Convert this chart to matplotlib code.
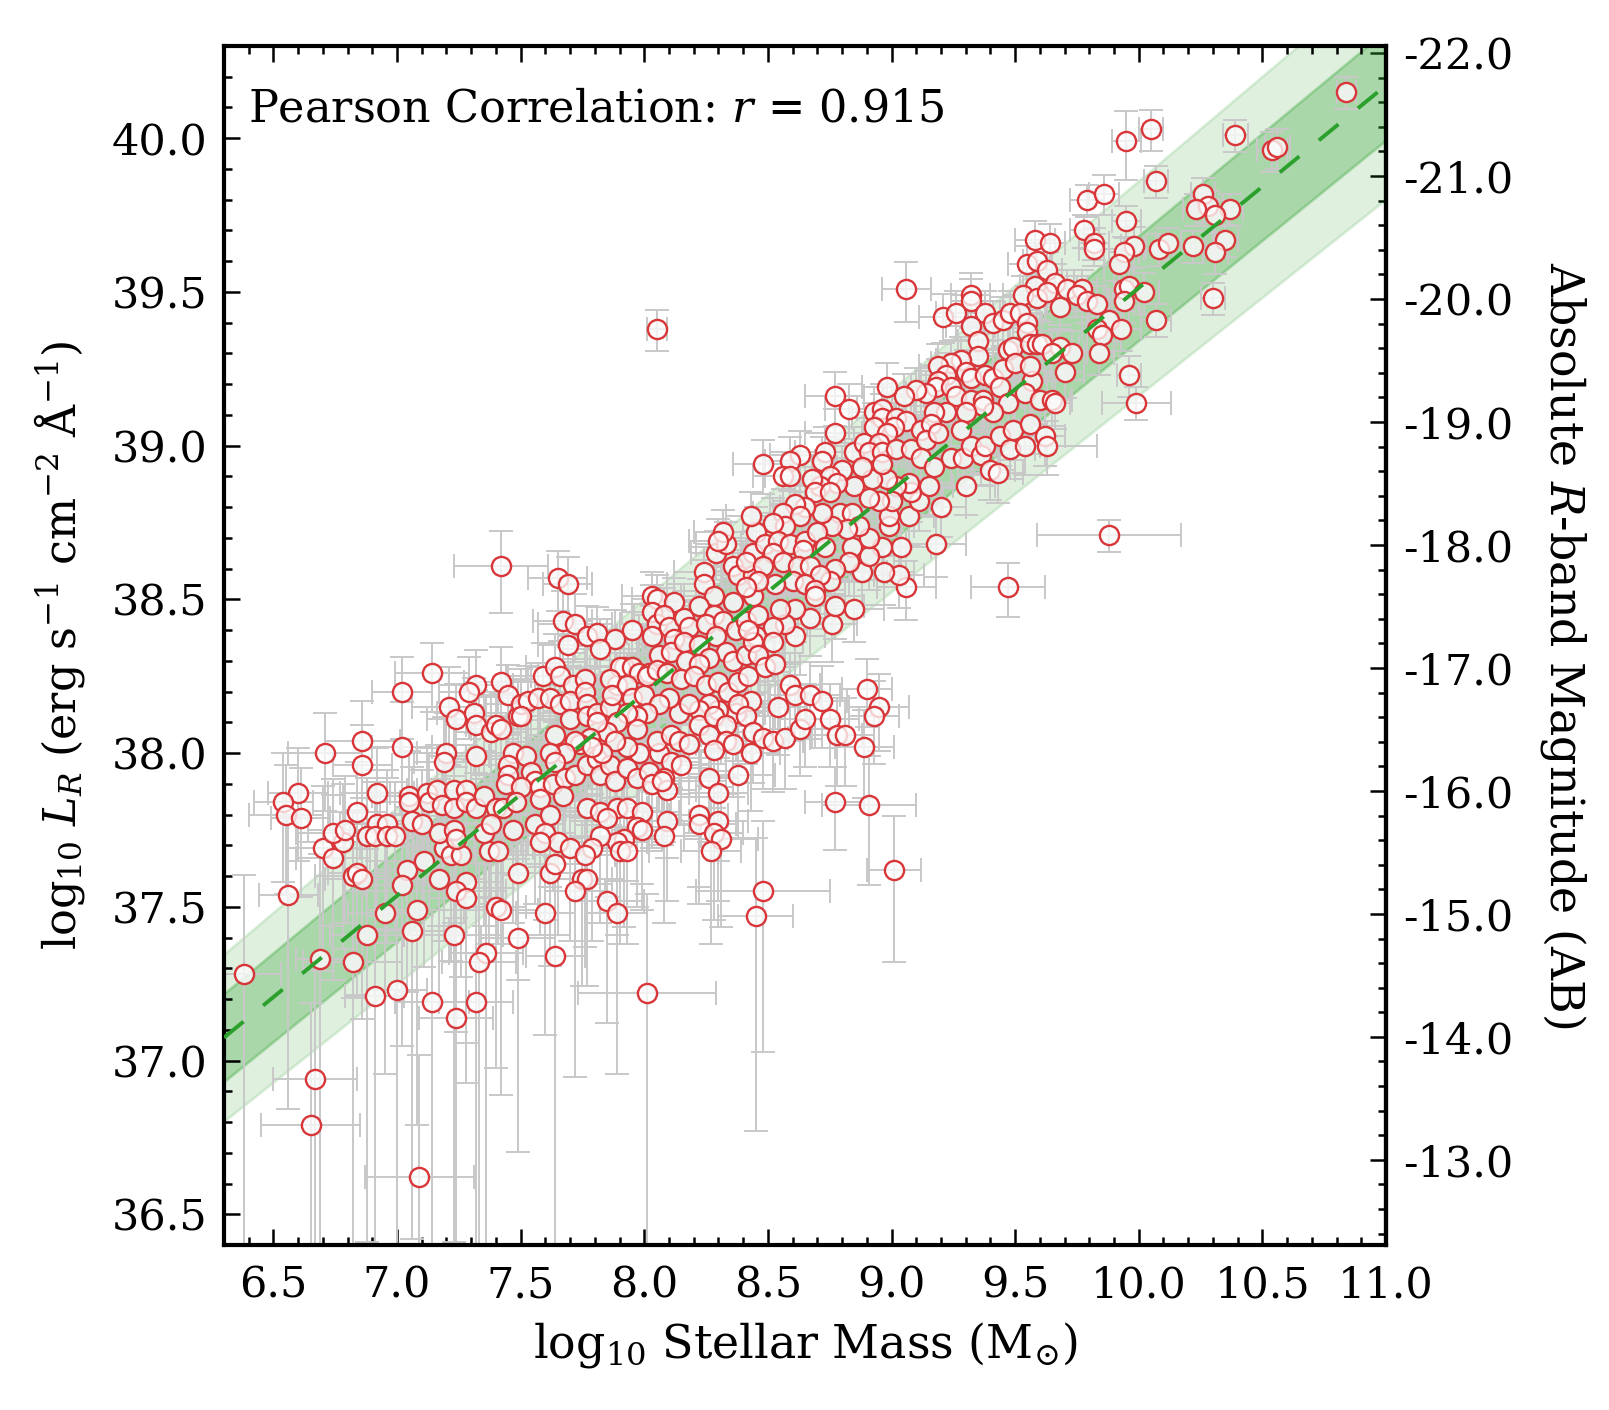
import numpy as np
import matplotlib
matplotlib.use("Agg")
import matplotlib.pyplot as plt
from matplotlib.ticker import MultipleLocator, FixedLocator, FuncFormatter

# ---------------- data ----------------
mass = [
    # lower-left
    6.70, 6.74, 6.78, 6.56, 6.38, 6.69, 6.82, 6.88, 6.95, 6.82,
    6.84, 6.86, 7.04, 7.02, 7.08, 7.06, 7.11, 7.17, 7.19, 7.22,
    7.26, 7.28, 7.24, 7.28, 7.23, 7.36, 7.33, 7.40, 7.42, 7.37,
    7.41, 7.49, 7.49, 6.91, 7.00, 7.14, 7.24, 7.32, 6.67, 6.65,
    7.09,
    # left
    7.42, 7.14, 7.02, 7.42, 7.45, 7.32, 7.29, 7.21, 7.24, 7.31,
    7.32, 7.38, 7.40, 7.42, 7.49, 6.71, 6.86, 6.86, 7.02, 7.20,
    7.19, 7.32, 7.47, 7.45, 7.45, 7.44, 6.60, 6.54, 6.55, 6.61,
    6.84, 6.92, 7.05, 7.05, 7.12, 7.13, 7.16, 7.18, 7.23, 7.23,
    7.28, 7.28, 7.32, 7.35, 7.40, 7.43, 7.06, 7.10, 6.92, 6.96,
    6.74, 6.79, 6.88, 6.91, 6.96, 6.99, 7.17, 7.23, 7.24, 7.35,
    7.38, 7.47,
    # core (lower)
    7.65, 7.69, 7.67, 7.72, 7.77, 7.81, 7.88, 7.95, 7.69, 7.82,
    7.59, 7.64, 7.66, 7.71, 7.76, 7.50, 7.53, 7.57, 7.62, 7.66,
    7.70, 7.76, 7.77, 7.50, 7.70, 7.77, 7.81, 7.86, 7.89, 7.92,
    7.90, 7.95, 7.98, 8.02, 7.86, 7.87, 7.93, 7.95, 8.00, 8.03,
    8.05, 8.12, 8.03, 8.05, 8.08, 8.10, 8.16, 8.18, 8.12, 8.03,
    8.06, 8.11, 8.16, 8.17, 8.22, 8.24, 8.24, 8.28, 8.29, 8.33,
    8.36, 8.38, 8.44, 8.44, 8.22, 8.28, 8.25, 8.32, 8.36, 8.37,
    8.41, 8.44, 8.45, 8.29, 8.33, 8.26, 8.36, 8.41, 8.44, 8.22,
    8.01, 8.05, 8.09, 8.15, 8.20, 8.25, 8.30, 8.34, 8.38, 8.42,
    8.43, 8.37, 8.38, 8.30, 8.26, 8.22, 8.14, 8.18, 8.10, 8.06,
    8.01, 7.97, 7.97, 7.93, 7.89, 7.85, 7.81, 7.78, 7.74, 7.64,
    7.72, 7.68, 7.62, 7.64, 7.52, 7.54, 7.56, 7.50, 7.58, 7.63,
    7.68, 7.72, 7.58, 7.67, 7.48, 7.56, 7.62, 7.60, 7.65, 7.70,
    7.58, 7.77, 7.82, 7.89, 7.93, 7.99, 7.77, 7.81, 7.82, 7.86,
    7.88, 7.93, 7.97, 8.02, 7.98, 7.93, 7.88, 7.83, 7.79, 8.06,
    8.05, 8.11, 8.14, 8.18, 8.11, 8.15, 8.08, 8.03, 8.09, 8.07,
    8.22, 8.26, 8.28, 8.33, 8.33, 8.36, 8.28, 8.41, 8.44, 8.43,
    8.26, 8.38, 8.30, 8.22, 8.22, 8.30, 8.28, 8.31, 8.27, 8.09,
    8.08, 7.97, 7.99, 7.92, 7.89, 7.82, 7.85, 7.79, 7.90, 7.93,
    7.76,
    # isolated
    8.05, 8.32, 8.30,
    # core (upper)
    9.06, 9.32, 9.32, 9.21, 9.26, 9.38, 9.41, 9.45, 9.48, 9.32,
    9.35, 9.35, 9.28, 9.24, 9.19, 9.22, 9.30, 9.32, 9.38, 9.41,
    9.45, 9.47, 9.49, 9.44, 9.47, 9.19, 9.18, 9.24, 9.26, 9.32,
    9.37, 9.41, 9.37, 9.30, 9.28, 9.22, 9.17, 9.14, 9.10, 9.05,
    8.98, 8.77, 8.83, 8.77, 8.48, 8.63, 8.59, 8.56, 8.59, 8.73,
    8.72, 8.85, 8.93, 8.96, 8.96, 9.02, 9.06, 9.01, 8.93, 8.98,
    8.89, 8.95, 8.91, 8.96, 9.02, 9.08, 9.12, 9.16, 9.14, 9.19,
    9.12, 9.17, 9.24, 9.29, 9.32, 9.36, 9.38, 9.40, 9.44, 9.48,
    9.49, 9.30, 9.20, 9.18, 9.47, 9.06, 9.03, 8.97, 8.88, 9.04,
    8.96, 8.91, 8.91, 8.84, 8.83, 8.77, 8.75, 8.99, 8.99, 9.07,
    9.11, 9.08, 9.15, 9.07, 9.02, 9.00, 8.95, 8.98, 8.92, 8.91,
    8.85, 8.88, 8.96, 8.80, 8.75, 8.78, 8.71, 8.68, 8.69, 8.75,
    8.79, 8.84, 8.87, 8.82, 8.76, 8.72, 8.65, 8.61, 8.56, 8.63,
    8.57, 8.52, 8.45, 8.49, 8.54, 8.59, 8.65, 8.70, 8.73, 8.64,
    8.52, 8.41, 8.48, 8.56, 8.62, 8.67, 8.71, 8.60, 8.53, 8.46,
    8.41, 8.65, 8.69, 8.43,
    # core (lower right)
    8.85, 8.76, 8.77, 8.67, 8.69, 8.61, 8.61, 8.57, 8.55, 8.52,
    8.52, 8.46, 8.49, 8.53, 8.59, 8.61, 8.67, 8.72, 8.54, 8.48,
    8.52, 8.57, 8.63, 8.65, 8.75, 8.78, 8.81, 8.90, 8.95, 8.93,
    8.89, 8.77, 8.91, 9.01, 8.48, 8.45, 8.46, 8.42,
    # high mass
    10.84, 9.95, 10.05, 10.39, 10.54, 10.56, 10.07, 10.26, 10.28, 10.23,
    10.37, 10.31, 10.22, 10.35, 10.31, 9.79, 9.86, 9.95, 9.78, 9.82,
    9.82, 9.98, 9.94, 9.92, 10.08, 10.12, 9.58, 9.64, 9.55, 9.59,
    9.63, 9.66, 9.58, 9.53, 9.59, 9.63, 9.71, 9.77, 9.75, 9.79,
    9.83, 9.68, 9.94, 9.96, 9.94, 10.02, 10.30, 10.07, 9.88, 9.83,
    9.85, 9.93, 9.84, 9.96, 9.99, 9.88, 9.52, 9.55, 9.55, 9.56,
    9.59, 9.61, 9.68, 9.73, 9.65, 9.70, 9.57, 9.50, 9.56, 9.54,
    9.60, 9.65, 9.66, 9.56, 9.62, 9.63, 9.54, 9.43,
    # lower middle
    7.62, 7.64, 7.75, 7.77, 7.72, 7.85, 7.89, 7.60, 7.64, 8.01,
]

lum = [
    37.69, 37.66, 37.71, 37.54, 37.28, 37.33, 37.32, 37.41, 37.48, 37.60,
    37.61, 37.59, 37.62, 37.57, 37.49, 37.42, 37.65, 37.59, 37.69, 37.67,
    37.67, 37.58, 37.55, 37.53, 37.41, 37.35, 37.32, 37.50, 37.49, 37.68,
    37.68, 37.61, 37.40, 37.21, 37.23, 37.19, 37.14, 37.19, 36.94, 36.79,
    36.62,
    38.61, 38.26, 38.20, 38.23, 38.19, 38.22, 38.20, 38.15, 38.11, 38.13,
    38.09, 38.07, 38.09, 38.08, 38.12, 38.00, 38.04, 37.96, 38.02, 38.00,
    37.97, 37.99, 38.00, 37.96, 37.93, 37.90, 37.87, 37.84, 37.80, 37.79,
    37.81, 37.87, 37.86, 37.84, 37.87, 37.84, 37.88, 37.83, 37.88, 37.82,
    37.88, 37.84, 37.82, 37.86, 37.82, 37.82, 37.78, 37.77, 37.77, 37.77,
    37.74, 37.75, 37.73, 37.73, 37.73, 37.73, 37.74, 37.75, 37.72, 37.74,
    37.77, 37.75,
    38.57, 38.55, 38.43, 38.42, 38.38, 38.39, 38.37, 38.40, 38.35, 38.34,
    38.25, 38.28, 38.25, 38.22, 38.24, 38.16, 38.17, 38.18, 38.18, 38.16,
    38.17, 38.20, 38.16, 38.12, 38.11, 38.12, 38.13, 38.15, 38.22, 38.28,
    38.28, 38.28, 38.26, 38.26, 38.24, 38.19, 38.22, 38.18, 38.19, 38.51,
    38.50, 38.49, 38.46, 38.42, 38.45, 38.41, 38.44, 38.41, 38.37, 38.38,
    38.32, 38.33, 38.36, 38.30, 38.35, 38.59, 38.55, 38.51, 38.65, 38.68,
    38.61, 38.58, 38.65, 38.58, 38.48, 38.45, 38.42, 38.43, 38.49, 38.40,
    38.43, 38.51, 38.38, 38.38, 38.33, 38.31, 38.30, 38.32, 38.36, 38.29,
    38.25, 38.27, 38.26, 38.24, 38.25, 38.22, 38.23, 38.20, 38.23, 38.25,
    38.17, 38.13, 38.16, 38.14, 38.16, 38.14, 38.13, 38.16, 38.18, 38.16,
    38.13, 38.12, 38.08, 38.13, 38.10, 38.07, 38.10, 38.05, 38.03, 38.06,
    38.04, 38.00, 38.00, 37.97, 37.99, 37.94, 37.91, 37.89, 37.89, 37.90,
    37.92, 37.93, 37.85, 37.86, 37.84, 37.77, 37.80, 37.74, 37.71, 37.69,
    37.71, 37.82, 37.81, 37.82, 37.82, 37.81, 37.96, 37.98, 37.93, 37.96,
    37.91, 37.95, 37.92, 37.94, 38.00, 38.02, 38.04, 38.00, 38.02, 38.00,
    38.04, 38.06, 38.04, 38.03, 37.97, 37.96, 37.92, 37.90, 37.88, 37.91,
    38.09, 38.06, 38.12, 38.09, 38.04, 38.03, 38.01, 38.12, 38.07, 38.00,
    37.92, 37.93, 37.87, 37.80, 37.77, 37.78, 37.74, 37.72, 37.68, 37.78,
    37.73, 37.76, 37.75, 37.72, 37.71, 37.73, 37.79, 37.69, 37.68, 37.68,
    37.67,
    39.38, 38.72, 38.69,
    39.51, 39.49, 39.47, 39.42, 39.43, 39.43, 39.40, 39.41, 39.43, 39.39,
    39.34, 39.29, 39.28, 39.27, 39.26, 39.23, 39.24, 39.22, 39.23, 39.22,
    39.25, 39.31, 39.32, 39.19, 39.14, 39.21, 39.19, 39.19, 39.16, 39.15,
    39.15, 39.11, 39.13, 39.11, 39.05, 39.11, 39.11, 39.17, 39.18, 39.16,
    39.19, 39.16, 39.12, 39.04, 38.94, 38.97, 38.95, 38.90, 38.90, 38.98,
    38.95, 38.98, 39.11, 39.12, 39.09, 39.09, 39.08, 39.06, 39.06, 39.04,
    39.01, 39.01, 38.98, 38.98, 38.99, 38.99, 39.05, 39.07, 39.02, 39.04,
    38.96, 38.93, 38.96, 38.96, 39.00, 38.97, 39.00, 38.92, 39.03, 38.99,
    39.05, 38.87, 38.80, 38.68, 38.54, 38.54, 38.58, 38.59, 38.59, 38.67,
    38.67, 38.64, 38.70, 38.67, 38.62, 38.60, 38.56, 38.74, 38.77, 38.77,
    38.82, 38.85, 38.87, 38.88, 38.87, 38.82, 38.82, 38.89, 38.89, 38.83,
    38.87, 38.93, 38.94, 38.92, 38.90, 38.88, 38.87, 38.89, 38.85, 38.85,
    38.78, 38.78, 38.74, 38.73, 38.74, 38.78, 38.80, 38.81, 38.78, 38.77,
    38.74, 38.75, 38.72, 38.68, 38.69, 38.68, 38.69, 38.72, 38.67, 38.66,
    38.65, 38.62, 38.61, 38.62, 38.61, 38.61, 38.58, 38.56, 38.55, 38.56,
    38.54, 38.55, 38.53, 38.77,
    38.47, 38.42, 38.48, 38.44, 38.51, 38.47, 38.38, 38.42, 38.47, 38.41,
    38.36, 38.32, 38.28, 38.29, 38.22, 38.19, 38.19, 38.17, 38.15, 38.05,
    38.04, 38.05, 38.08, 38.11, 38.11, 38.06, 38.06, 38.21, 38.15, 38.12,
    38.02, 37.84, 37.83, 37.62, 37.55, 37.47, 38.45, 38.40,
    40.15, 39.99, 40.03, 40.01, 39.96, 39.97, 39.86, 39.82, 39.78, 39.77,
    39.77, 39.75, 39.65, 39.67, 39.63, 39.80, 39.82, 39.73, 39.70, 39.66,
    39.64, 39.65, 39.63, 39.59, 39.64, 39.66, 39.67, 39.66, 39.59, 39.60,
    39.57, 39.53, 39.52, 39.49, 39.48, 39.50, 39.51, 39.51, 39.49, 39.47,
    39.46, 39.45, 39.51, 39.52, 39.47, 39.50, 39.48, 39.41, 39.41, 39.38,
    39.36, 39.38, 39.30, 39.23, 39.14, 38.71, 39.43, 39.40, 39.37, 39.33,
    39.33, 39.33, 39.32, 39.30, 39.30, 39.24, 39.21, 39.27, 39.26, 39.17,
    39.15, 39.15, 39.14, 39.07, 39.03, 39.00, 39.00, 38.91,
    37.61, 37.64, 37.59, 37.59, 37.55, 37.52, 37.48, 37.48, 37.34, 37.22,
]

mass_err = [
    .15, .15, .18, .12, .15, .10, .20, .15, .15, .15,
    .12, .15, .12, .15, .20, .15, .15, .18, .12, .15,
    .12, .15, .20, .15, .20, .15, .15, .12, .15, .15,
    .10, .12, .15, .12, .12, .15, .15, .15, .17, .20,
    .22,
    .19, .15, .12, .15, .12, .15, .12, .15, .12, .15,
    .12, .15, .12, .12, .15, .15, .15, .12, .12, .12,
    .12, .15, .12, .12, .15, .12, .12, .12, .15, .12,
    .12, .15, .15, .12, .15, .12, .12, .12, .15, .12,
    .12, .15, .12, .12, .15, .12, .15, .12, .15, .12,
    .15, .15, .12, .12, .15, .12, .15, .12, .15, .12,
    .15, .12,
    .12, .10, .12, .15, .12, .12, .15, .10, .12, .15,
    .15, .12, .12, .15, .12, .15, .12, .15, .12, .12,
    .15, .12, .15, .12, .12, .15, .12, .12, .15, .12,
    .12, .15, .12, .12, .12, .15, .12, .12, .15, .12,
    .10, .12, .12, .15, .12, .12, .15, .12, .12, .15,
    .12, .12, .15, .12, .12, .12, .15, .12, .10, .12,
    .12, .10, .12, .12, .12, .15, .12, .12, .15, .12,
    .12, .15, .12, .12, .15, .12, .12, .15, .12, .12,
    .12, .15, .12, .12, .15, .12, .12, .15, .12, .12,
    .15, .12, .12, .15, .12, .12, .15, .12, .12, .15,
    .12, .12, .15, .12, .12, .15, .12, .12, .15, .12,
    .12, .15, .12, .12, .15, .12, .12, .15, .12, .12,
    .15, .12, .12, .15, .12, .12, .15, .12, .12, .15,
    .12, .12, .15, .12, .12, .15, .12, .12, .15, .12,
    .12, .15, .12, .12, .15, .12, .12, .15, .12, .12,
    .15, .12, .12, .15, .12, .12, .15, .12, .12, .15,
    .12, .12, .15, .12, .12, .15, .12, .12, .15, .12,
    .12, .15, .12, .12, .15, .12, .12, .15, .12, .12,
    .15, .12, .12, .15, .12, .12, .15, .12, .12, .15,
    .12,
    .04, .12, .12,
    .10, .08, .08, .10, .08, .08, .10, .08, .08, .10,
    .08, .08, .10, .08, .08, .10, .08, .08, .10, .08,
    .08, .10, .08, .08, .10, .08, .10, .08, .08, .10,
    .08, .08, .10, .08, .08, .10, .08, .08, .10, .08,
    .10, .12, .10, .12, .12, .12, .10, .12, .10, .12,
    .10, .12, .10, .10, .12, .10, .10, .12, .10, .10,
    .12, .10, .10, .12, .10, .10, .12, .10, .10, .12,
    .10, .10, .12, .10, .10, .12, .10, .10, .12, .10,
    .10, .12, .10, .12, .15, .12, .10, .12, .10, .12,
    .10, .10, .12, .10, .10, .12, .10, .10, .12, .10,
    .10, .12, .10, .10, .12, .10, .10, .12, .10, .10,
    .12, .10, .10, .12, .10, .10, .12, .10, .10, .12,
    .10, .10, .12, .10, .10, .12, .10, .10, .12, .10,
    .10, .12, .10, .10, .12, .10, .10, .12, .10, .10,
    .12, .10, .10, .12, .10, .10, .12, .10, .10, .12,
    .10, .10, .12, .10,
    .12, .10, .12, .10, .12, .10, .12, .10, .12, .10,
    .12, .10, .12, .10, .12, .10, .12, .10, .12, .10,
    .12, .10, .12, .10, .12, .10, .12, .10, .12, .10,
    .12, .12, .19, .11, .27, .15, .12, .10,
    .04, .06, .05, .05, .06, .05, .05, .05, .06, .05,
    .05, .05, .05, .05, .05, .07, .06, .06, .06, .06,
    .06, .05, .06, .06, .06, .05, .08, .06, .08, .06,
    .06, .08, .06, .08, .06, .06, .08, .06, .06, .08,
    .06, .06, .08, .06, .06, .06, .05, .06, .08, .06,
    .06, .08, .06, .05, .14, .29, .08, .06, .06, .08,
    .06, .06, .08, .06, .06, .08, .06, .06, .08, .06,
    .06, .08, .06, .06, .08, .20, .06, .10,
    .15, .12, .12, .15, .12, .15, .12, .12, .12, .28,
]

# fractional (linear) luminosity error of each galaxy
lum_frac_err = [
    .60, .60, .55, .80, 1.1, 1.2, .90, .90, .70, .60,
    .60, .65, .60, .70, .80, .90, .55, .60, .50, .55,
    .60, .70, .65, .75, .90, .95, 1.1, .70, .75, .50,
    .50, .55, .80, 1.2, 1.1, 1.0, 1.1, 1.2, 1.3, 1.5,
    1.5,
    .30, .25, .30, .30, .25, .30, .30, .35, .30, .30,
    .30, .30, .35, .30, .30, .35, .35, .35, .40, .35,
    .40, .35, .30, .35, .35, .40, .40, .45, .45, .45,
    .45, .40, .40, .45, .40, .45, .40, .45, .40, .45,
    .40, .45, .45, .40, .45, .45, .50, .50, .50, .50,
    .50, .50, .55, .50, .55, .50, .50, .50, .50, .50,
    .45, .50,
    .22, .22, .25, .25, .25, .22, .25, .22, .25, .25,
    .28, .28, .30, .28, .28, .30, .30, .30, .30, .30,
    .30, .28, .30, .32, .32, .30, .30, .30, .28, .28,
    .28, .28, .28, .25, .28, .30, .28, .30, .28, .20,
    .20, .20, .22, .22, .22, .22, .22, .22, .25, .25,
    .25, .25, .25, .25, .25, .20, .20, .20, .18, .18,
    .20, .20, .18, .20, .22, .22, .22, .22, .20, .22,
    .22, .20, .22, .22, .25, .25, .25, .25, .22, .25,
    .28, .28, .28, .28, .28, .28, .28, .28, .28, .25,
    .28, .30, .30, .30, .30, .30, .30, .30, .30, .30,
    .30, .32, .32, .30, .32, .32, .32, .32, .35, .32,
    .35, .35, .35, .35, .35, .38, .38, .40, .40, .38,
    .38, .38, .40, .40, .42, .45, .42, .48, .50, .50,
    .50, .42, .42, .42, .42, .42, .36, .35, .38, .36,
    .38, .36, .38, .36, .35, .35, .35, .35, .35, .35,
    .33, .33, .33, .33, .35, .36, .38, .38, .40, .38,
    .32, .32, .30, .32, .33, .33, .35, .30, .32, .35,
    .38, .38, .40, .42, .45, .45, .48, .48, .50, .45,
    .48, .45, .45, .48, .50, .48, .45, .50, .50, .50,
    .50,
    .15, .18, .18,
    .22, .18, .18, .18, .18, .18, .18, .18, .18, .18,
    .18, .18, .18, .18, .18, .18, .18, .18, .18, .18,
    .18, .18, .18, .18, .18, .18, .18, .18, .18, .18,
    .18, .18, .18, .18, .20, .18, .18, .18, .18, .18,
    .20, .20, .20, .20, .20, .20, .20, .20, .20, .20,
    .20, .20, .20, .20, .20, .20, .20, .20, .20, .20,
    .20, .20, .20, .20, .20, .20, .20, .20, .20, .20,
    .20, .20, .20, .20, .20, .20, .20, .20, .20, .20,
    .20, .20, .20, .22, .20, .22, .22, .22, .22, .22,
    .22, .22, .22, .22, .22, .22, .22, .20, .20, .20,
    .20, .20, .20, .20, .20, .20, .20, .20, .20, .20,
    .20, .20, .20, .20, .20, .20, .20, .20, .20, .20,
    .20, .20, .20, .20, .20, .20, .20, .20, .20, .20,
    .20, .20, .20, .20, .20, .20, .20, .20, .20, .20,
    .20, .20, .20, .20, .20, .20, .20, .22, .22, .22,
    .22, .22, .22, .20,
    .22, .25, .22, .25, .22, .22, .25, .25, .22, .25,
    .25, .25, .28, .28, .28, .28, .28, .30, .30, .32,
    .32, .32, .30, .30, .30, .32, .32, .25, .28, .30,
    .32, .30, .45, .50, .70, .80, .22, .25,
    .12, .25, .15, .12, .15, .15, .12, .12, .12, .12,
    .12, .12, .12, .12, .15, .12, .15, .12, .12, .12,
    .12, .15, .12, .12, .12, .12, .15, .15, .15, .15,
    .15, .15, .15, .15, .15, .15, .15, .15, .15, .15,
    .15, .15, .15, .15, .15, .15, .12, .12, .15, .15,
    .15, .15, .15, .15, .12, .12, .18, .18, .18, .18,
    .18, .18, .18, .18, .18, .18, .18, .18, .18, .18,
    .18, .18, .18, .20, .20, .20, .20, .20,
    .50, .50, .55, .55, .75, .60, .70, .60, 1.1, 1.1,
]

# linear fit and its scatter bands (half widths at the two x limits)
fit_slope = 0.659
fit_intercept = 32.923
band_x = [6.3, 11.0]
band_inner = [0.143, 0.178]
band_outer = [0.272, 0.370]
pearson_r = 0.915

# AB magnitude conversion  M = -2.5 log10 L + MAG_ZP
MAG_ZP = 78.6925
mag_ticks = [-22.0, -21.0, -20.0, -19.0, -18.0, -17.0, -16.0, -15.0, -14.0, -13.0]

# ---------------- figure ----------------
plt.rcParams['font.family'] = ['DejaVu Serif']
plt.rcParams['mathtext.fontset'] = 'dejavuserif'

n = min(len(mass), len(lum), len(mass_err), len(lum_frac_err))
x = np.array(mass[:n])
y = np.array(lum[:n])
xe = np.array(mass_err[:n])
f = np.array(lum_frac_err[:n])
y_hi = np.log10(1.0 + f)
y_lo = np.where(f < 0.999, -np.log10(np.clip(1.0 - f, 1e-6, None)), 5.0)

fig = plt.figure(figsize=(8.045, 7.05), dpi=200)
ax = fig.add_axes([0.1392, 0.1170, 0.7222, 0.8504])

xx = np.linspace(6.3, 11.0, 300)
yy = fit_slope * xx + fit_intercept
w_in = np.interp(xx, band_x, band_inner)
w_out = np.interp(xx, band_x, band_outer)
green = '#2ca02c'
ax.fill_between(xx, yy - w_out, yy + w_out, color=green, alpha=0.15, lw=1.0, zorder=1)
ax.fill_between(xx, yy - w_in, yy + w_in, color=green, alpha=0.30, lw=1.0, zorder=1)

ax.errorbar(x, y, xerr=xe, yerr=[y_lo, y_hi], fmt='none', ecolor='#c8c8c8',
            elinewidth=0.7, capsize=4.3, capthick=0.7, zorder=2)
ax.plot(x, y, 'o', ms=6.9, mfc=(0.99, 0.99, 0.99, 0.78), mec='#d9363a', mew=0.85,
        ls='none', zorder=3)
ax.plot(xx, yy, color=green, lw=1.4, ls=(0, (6.5, 6.5)), zorder=4)

ax.set_xlim(6.3, 11.0)
ax.set_ylim(36.4, 40.3)
ax.xaxis.set_major_locator(MultipleLocator(0.5))
ax.xaxis.set_minor_locator(MultipleLocator(0.1))
ax.yaxis.set_major_locator(MultipleLocator(0.5))
ax.yaxis.set_minor_locator(MultipleLocator(0.1))
fmt1 = FuncFormatter(lambda v, p: f"{v:.1f}")
ax.xaxis.set_major_formatter(fmt1)
ax.yaxis.set_major_formatter(fmt1)
ax.tick_params(which='both', direction='in', top=True, right=False,
               labelsize=15.5, width=0.9)
ax.tick_params(which='major', length=5.8)
ax.tick_params(which='minor', length=2.9)
ax.tick_params(axis='x', which='major', pad=7)
ax.tick_params(axis='y', which='major', pad=6)
for s in ax.spines.values():
    s.set_linewidth(1.5)

def lum_to_mag(L):
    return -2.5 * np.asarray(L) + MAG_ZP

def mag_to_lum(M):
    return (MAG_ZP - np.asarray(M)) / 2.5

sec = ax.secondary_yaxis('right', functions=(lum_to_mag, mag_to_lum))
sec.yaxis.set_major_locator(FixedLocator(mag_ticks))
minor_mags = [m / 10.0 for m in range(-222, -122, 2)]
sec.yaxis.set_minor_locator(FixedLocator(minor_mags))
sec.yaxis.set_major_formatter(fmt1)
sec.tick_params(which='both', direction='in', labelsize=15.5, width=0.9, pad=6)
sec.tick_params(which='major', length=5.8)
sec.tick_params(which='minor', length=2.9)
sec.spines['right'].set_linewidth(1.5)
sec.set_ylabel('Absolute $R$-band Magnitude (AB)', fontsize=16.5,
               rotation=270, va='bottom', labelpad=9)

ax.set_xlabel(r'log$_{10}$ Stellar Mass (M$_{\odot}$)', fontsize=16.5, labelpad=5)
ax.set_ylabel(r'log$_{10}$ $L_R$ (erg s$^{-1}$ cm$^{-2}$ Å$^{-1}$)', fontsize=16,
              labelpad=9)

ax.text(0.0206, 0.9366, f'Pearson Correlation: $r$ = {pearson_r:.3f}',
        transform=ax.transAxes, fontsize=16, ha='left', va='baseline', zorder=5)

fig.savefig('out.png', dpi=200, facecolor='white')
